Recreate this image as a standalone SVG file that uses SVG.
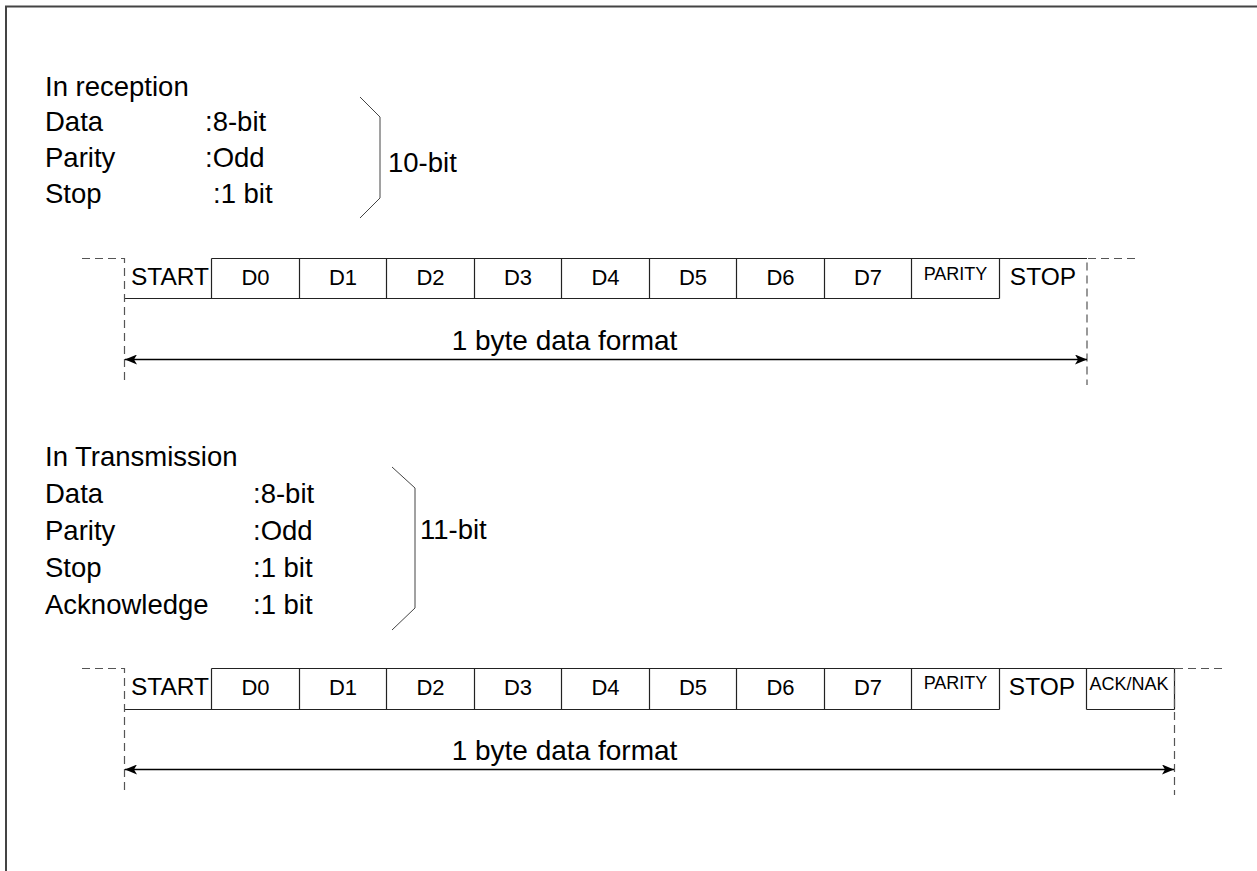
<svg xmlns="http://www.w3.org/2000/svg" width="1257" height="871" viewBox="0 0 1257 871">
<style>
  text { font-family: "Liberation Sans", Arial, sans-serif; fill: #000; }
  .lbl { font-size: 27.5px; }
  .cap { font-size: 28px; text-anchor: middle; }
  .cell { font-size: 22px; text-anchor: middle; }
  .big { font-size: 24.5px; text-anchor: middle; }
  .small { font-size: 18px; text-anchor: middle; }
  .ln { stroke: #222; stroke-width: 1.2; fill: none; }
  .dash { stroke: #555; stroke-width: 1.2; fill: none; stroke-dasharray: 8 5; }
  .brace { stroke: #444; stroke-width: 1; fill: none; }
  .arr { stroke: #000; stroke-width: 1.5; fill: none; marker-start: url(#ah); marker-end: url(#ah); }
</style>
<defs>
  <marker id="ah" viewBox="0 0 12 10" refX="12" refY="5" markerWidth="12" markerHeight="10" markerUnits="userSpaceOnUse" orient="auto-start-reverse">
    <path d="M0,0 L12,5 L0,10 L3,5 Z" fill="#000"/>
  </marker>
</defs>
<rect x="0" y="0" width="1257" height="871" fill="#fff"/>
<g id="frame">
  <path d="M6,880 V6.5 H1260" stroke="#444" stroke-width="2" fill="none"/>
</g>

<!-- Reception description -->
<g id="reception-text">
  <text class="lbl" x="45" y="96">In reception</text>
  <text class="lbl" x="45" y="131">Data</text>
  <text class="lbl" x="205" y="131">:8-bit</text>
  <text class="lbl" x="45" y="167">Parity</text>
  <text class="lbl" x="205" y="167">:Odd</text>
  <text class="lbl" x="45" y="203">Stop</text>
  <text class="lbl" x="213" y="203">:1 bit</text>
</g>
<g id="reception-brace">
  <path class="brace" d="M360,97 L380,117 L380,198 L360,218"/>
  <text class="lbl" x="388" y="172">10-bit</text>
</g>

<!-- Reception frame -->
<g id="rx-frame">
  <path class="ln" d="M124.5,298.5 H999.5 M211.5,258.5 H1087"/>
  <g id="rx-start"><text class="big" x="170" y="285">START</text></g>
  <g id="rx-d0"><path class="ln" d="M211.5,258.5 V298.5"/><text class="cell" x="255.5" y="285">D0</text></g>
  <g id="rx-d1"><path class="ln" d="M299.5,258.5 V298.5"/><text class="cell" x="343" y="285">D1</text></g>
  <g id="rx-d2"><path class="ln" d="M386.5,258.5 V298.5"/><text class="cell" x="430.5" y="285">D2</text></g>
  <g id="rx-d3"><path class="ln" d="M474.5,258.5 V298.5"/><text class="cell" x="518" y="285">D3</text></g>
  <g id="rx-d4"><path class="ln" d="M561.5,258.5 V298.5"/><text class="cell" x="605.5" y="285">D4</text></g>
  <g id="rx-d5"><path class="ln" d="M649.5,258.5 V298.5"/><text class="cell" x="693" y="285">D5</text></g>
  <g id="rx-d6"><path class="ln" d="M736.5,258.5 V298.5"/><text class="cell" x="780.5" y="285">D6</text></g>
  <g id="rx-d7"><path class="ln" d="M824.5,258.5 V298.5"/><text class="cell" x="868" y="285">D7</text></g>
  <g id="rx-parity"><path class="ln" d="M911.5,258.5 V298.5"/><text class="small" x="955.5" y="280">PARITY</text></g>
  <g id="rx-stop"><path class="ln" d="M999.5,258.5 V298.5"/><text class="big" x="1043" y="285">STOP</text></g>
</g>

<!-- Transmission description -->
<g id="transmission-text">
  <text class="lbl" x="45" y="466">In Transmission</text>
  <text class="lbl" x="45" y="503">Data</text>
  <text class="lbl" x="253" y="503">:8-bit</text>
  <text class="lbl" x="45" y="540">Parity</text>
  <text class="lbl" x="253" y="540">:Odd</text>
  <text class="lbl" x="45" y="577">Stop</text>
  <text class="lbl" x="253" y="577">:1 bit</text>
  <text class="lbl" x="45" y="614">Acknowledge</text>
  <text class="lbl" x="253" y="614">:1 bit</text>
</g>
<g id="transmission-brace">
  <path class="brace" d="M392,467 L415,488 L415,608 L392,630"/>
  <text class="lbl" x="420" y="539">11-bit</text>
</g>

<!-- Transmission frame -->
<g id="tx-frame">
  <path class="ln" d="M124.5,709.5 H999.5 M211.5,668.5 H1174.5 M1086.5,709.5 H1174.5"/>
  <g id="tx-start"><text class="big" x="170" y="695">START</text></g>
  <g id="tx-d0"><path class="ln" d="M211.5,668.5 V709.5"/><text class="cell" x="255.5" y="695">D0</text></g>
  <g id="tx-d1"><path class="ln" d="M299.5,668.5 V709.5"/><text class="cell" x="343" y="695">D1</text></g>
  <g id="tx-d2"><path class="ln" d="M386.5,668.5 V709.5"/><text class="cell" x="430.5" y="695">D2</text></g>
  <g id="tx-d3"><path class="ln" d="M474.5,668.5 V709.5"/><text class="cell" x="518" y="695">D3</text></g>
  <g id="tx-d4"><path class="ln" d="M561.5,668.5 V709.5"/><text class="cell" x="605.5" y="695">D4</text></g>
  <g id="tx-d5"><path class="ln" d="M649.5,668.5 V709.5"/><text class="cell" x="693" y="695">D5</text></g>
  <g id="tx-d6"><path class="ln" d="M736.5,668.5 V709.5"/><text class="cell" x="780.5" y="695">D6</text></g>
  <g id="tx-d7"><path class="ln" d="M824.5,668.5 V709.5"/><text class="cell" x="868" y="695">D7</text></g>
  <g id="tx-parity"><path class="ln" d="M911.5,668.5 V709.5"/><text class="small" x="955.5" y="689">PARITY</text></g>
  <g id="tx-stop"><path class="ln" d="M999.5,668.5 V709.5"/><text class="big" x="1042" y="695">STOP</text></g>
  <g id="tx-ack"><path class="ln" d="M1086.5,668.5 V709.5 M1174.5,668.5 V709.5"/><text class="small" x="1129" y="690">ACK/NAK</text></g>
</g>

<g id="connectors">
  <!-- reception -->
  <path class="dash" d="M82,258.5 H124.5 V385"/>
  <path class="dash" d="M1135,258.5 H1087 V385"/>
  <path class="arr" d="M125,359.5 H1087"/>
  <text class="cap" x="564.5" y="350">1 byte data format</text>
  <!-- transmission -->
  <path class="dash" d="M82,668.5 H124.5 V795"/>
  <path class="dash" d="M1222,668.5 H1174.5 V795"/>
  <path class="arr" d="M125,769.5 H1174"/>
  <text class="cap" x="564.5" y="760">1 byte data format</text>
</g>
</svg>
